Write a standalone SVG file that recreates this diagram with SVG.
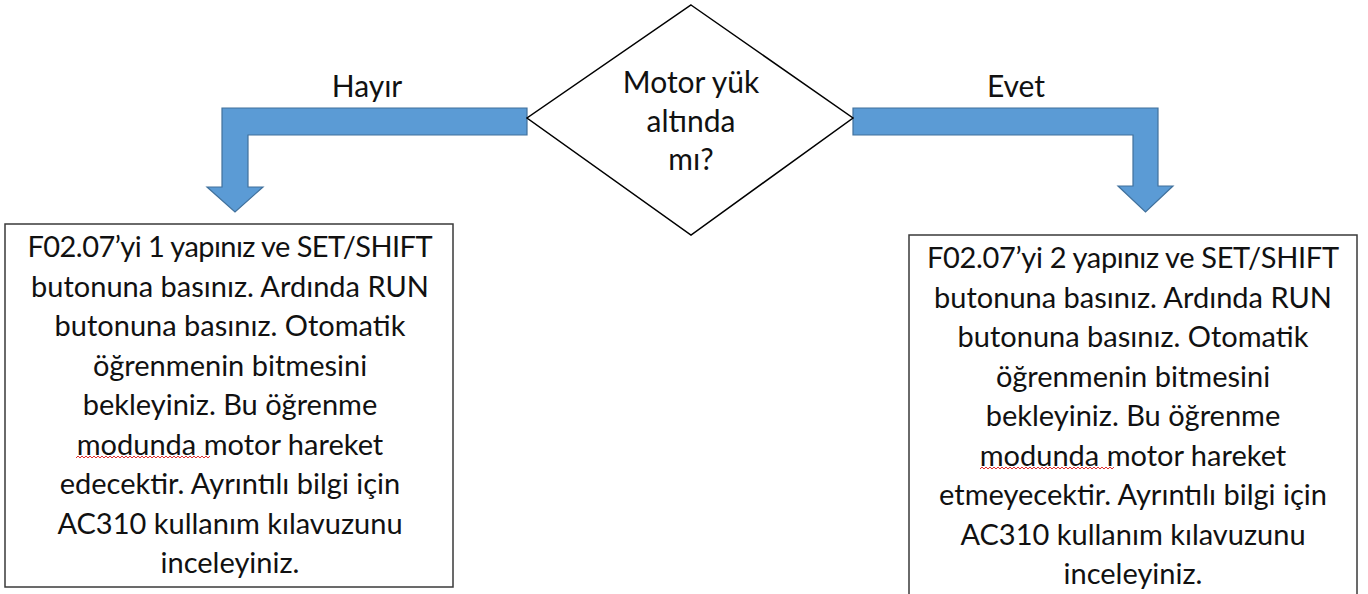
<svg xmlns="http://www.w3.org/2000/svg" width="1368" height="594" viewBox="0 0 1368 594">
  <style>
    .t { font-family: "Lato", "Liberation Sans", sans-serif; font-size: 30px; fill: #111; text-anchor: middle; }
    .b { font-size: 29px; }
    .box { fill: #fff; stroke: #3a3a3a; stroke-width: 1.5; }
    .dia { fill: #fff; stroke: #000; stroke-width: 1.5; }
    .arr { fill: #5B9BD5; stroke: #41719C; stroke-width: 1.2; }
    .sq { fill: none; stroke: #e03030; stroke-width: 1; }
  </style>
  <defs>
    <path id="squiggle" d="M0,2 l2,-2 l2,2 l2,-2 l2,2 l2,-2 l2,2 l2,-2 l2,2 l2,-2 l2,2 l2,-2 l2,2 l2,-2 l2,2 l2,-2 l2,2 l2,-2 l2,2 l2,-2 l2,2 l2,-2 l2,2 l2,-2 l2,2 l2,-2 l2,2 l2,-2 l2,2 l2,-2 l2,2 l2,-2 l2,2 l2,-2 l2,2 l2,-2 l2,2 l2,-2 l2,2 l2,-2 l2,2 l2,-2 l2,2 l2,-2 l2,2 l2,-2 l2,2 l2,-2 l2,2 l2,-2 l2,2 l2,-2 l2,2 l2,-2 l2,2 l2,-2 l2,2 l2,-2 l2,2 l2,-2 l2,2 l2,-2 l2,2 l2,-2 l2,2 l2,-2 l2,2 l2,-2"/>
  </defs>
  <rect width="1368" height="594" fill="#fff"/>
  <g id="connectors">
    <path class="arr" d="M527,108 L222,108 L222,187 L207,187 L235,212 L263,187 L248,187 L248,135 L527,135 Z"/>
    <path class="arr" d="M853,108 L1158,108 L1158,186 L1173,186 L1145.5,212 L1118,186 L1133,186 L1133,135 L853,135 Z"/>
    <text class="t" x="367" y="97">Hayır</text>
    <text class="t" x="1016" y="97">Evet</text>
  </g>
  <g id="decision">
    <polygon class="dia" points="691,5 853,118 691,235 527,118"/>
    <text class="t" x="691" y="93">Motor yük</text>
    <text class="t" x="691" y="132">altında</text>
    <text class="t" x="691" y="170">mı?</text>
  </g>
  <g id="box-hayir">
    <rect class="box" x="5" y="224" width="448" height="363"/>
    <text class="t b" x="230" y="257" textLength="405">F02.07’yi 1 yapınız ve SET/SHIFT</text>
    <text class="t b" x="230" y="296.5">butonuna basınız. Ardında RUN</text>
    <text class="t b" x="230" y="336">butonuna basınız. Otomatik</text>
    <text class="t b" x="230" y="375.5">öğrenmenin bitmesini</text>
    <text class="t b" x="230" y="415">bekleyiniz. Bu öğrenme</text>
    <text class="t b" x="230" y="454.5">modunda motor hareket</text>
    <text class="t b" x="230" y="494">edecektir. Ayrıntılı bilgi için</text>
    <text class="t b" x="230" y="533.5">AC310 kullanım kılavuzunu</text>
    <text class="t b" x="230" y="573">inceleyiniz.</text>
    <use class="sq" href="#squiggle" x="76" y="456"/>
  </g>
  <g id="box-evet">
    <rect class="box" x="909" y="235" width="448" height="380"/>
    <text class="t b" x="1133" y="268" textLength="412">F02.07’yi 2 yapınız ve SET/SHIFT</text>
    <text class="t b" x="1133" y="307.5">butonuna basınız. Ardında RUN</text>
    <text class="t b" x="1133" y="347">butonuna basınız. Otomatik</text>
    <text class="t b" x="1133" y="386.5">öğrenmenin bitmesini</text>
    <text class="t b" x="1133" y="426">bekleyiniz. Bu öğrenme</text>
    <text class="t b" x="1133" y="465.5">modunda motor hareket</text>
    <text class="t b" x="1133" y="505">etmeyecektir. Ayrıntılı bilgi için</text>
    <text class="t b" x="1133" y="544.5">AC310 kullanım kılavuzunu</text>
    <text class="t b" x="1133" y="584">inceleyiniz.</text>
    <use class="sq" href="#squiggle" x="980" y="467"/>
  </g>
</svg>
